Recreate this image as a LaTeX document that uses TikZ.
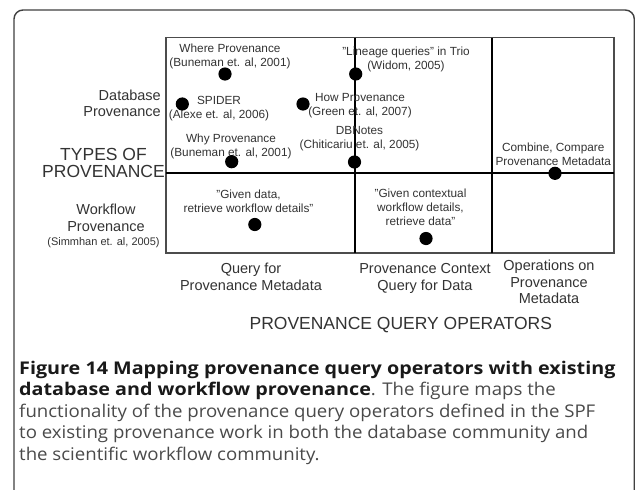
\documentclass[tikz,border=0pt]{standalone}
\usepackage{fontspec}
\setmainfont{Liberation Sans}
\newfontfamily\capfont[FakeStretch=1.064,BoldFeatures={FakeStretch=1.128}]{Open Sans}
\newcommand{\qt}{\symbol{34}}
\definecolor{inkgray}{HTML}{333333}
\definecolor{capgray}{HTML}{4A4A4A}
\tikzset{
  celltext/.style={inner sep=0pt,align=center,text=inkgray,font=\fontsize{11.8}{14}\selectfont},
  sidetext/.style={inner sep=0pt,align=center,text=inkgray,font=\fontsize{14.5}{16.8}\selectfont},
  bigtext/.style={inner sep=0pt,align=center,text=inkgray,font=\fontsize{17.5}{17.8}\selectfont},
  gridline/.style={line width=1.2pt},
}
\begin{document}
\begin{tikzpicture}[x=1pt,y=-1pt]
\clip (0,0) rectangle (635,490);
\fill[white] (0,0) rectangle (635,490);
% outer frame
\draw[line width=1.4pt,draw=black!75,rounded corners=9pt] (14,520) -- (14,10) -- (634.3,10) -- (634.3,520);
% grid
\draw[gridline,draw=black!70] (166,37.5) rectangle (614,253);
\draw[gridline] (166,173) -- (614,173);
\draw[gridline] (355,37.5) -- (355,253);
\draw[gridline] (492,37.5) -- (492,253);
% dots
\coordinate (Where) at (225,74);
\coordinate (Spider) at (182.3,104);
\coordinate (How) at (303,104);
\coordinate (Trio) at (355.7,74);
\coordinate (Why) at (231.7,161.7);
\coordinate (DBNotes) at (354.5,162);
\coordinate (GivenData) at (254.8,224.5);
\coordinate (GivenCtx) at (426,238.5);
\coordinate (Combine) at (555,173.3);
% cell labels
\node[celltext] (whereTxt) at (230,56) {Where Provenance\\(Buneman et. al, 2001)};
\node[celltext] (spiderTxt) at (219,109) {SPIDER\\(Alexe et. al, 2006)};
\node[celltext] (whyTxt) at (231,146) {Why Provenance\\(Buneman et. al, 2001)};
\node[celltext] (howTxt) at (360,105.7) {How Provenance\\(Green et. al, 2007)};
\node[celltext] (dbTxt) at (359.5,138.7) {DBNotes\\(Chiticariu et. al, 2005)};
\node[celltext] (trioTxt) at (406,59.2) {\qt Lineage queries\qt\ in Trio\\(Widom, 2005)};
\node[celltext] (combTxt) at (553.3,154.5) {Combine, Compare\\Provenance Metadata};
\node[celltext] (givenTxt) at (248.5,200.8) {\qt Given data,\\retrieve workflow details\qt};
\node[celltext] (ctxTxt) at (420.5,207) {\qt Given contextual\\workflow details,\\retrieve data\qt};
\foreach \p in {Where,Spider,How,Trio,Why,DBNotes,GivenData,GivenCtx,Combine}
  \fill (\p) circle (6.6pt);
% side labels
\node[sidetext,align=right,anchor=east] (dbProv) at (161,103.4) {Database\\Provenance};
\node[bigtext] (types) at (103.5,162.9) {TYPES OF\\PROVENANCE};
\node[sidetext] (wfProv) at (106,217.8) {Workflow\\Provenance};
\node[celltext,font=\fontsize{11}{13}\selectfont] (simmhan) at (103.5,242.3) {(Simmhan et. al, 2005)};
% bottom labels
\node[sidetext] (queryMeta) at (251,277) {Query for\\Provenance Metadata};
\node[sidetext] (queryData) at (425,278.6) {Provenance Context\\Query for Data};
\node[sidetext] (operations) at (549,282) {Operations on\\Provenance\\Metadata};
\node[bigtext] (operators) at (400.8,325) {PROVENANCE QUERY OPERATORS};
% caption
\node[anchor=north west,inner sep=0pt,align=left,text=capgray,
  font=\capfont\fontsize{17.5}{21.6}\selectfont] (caption) at (19,360.5)
  {\textcolor{black!90}{\bfseries Figure 14 Mapping provenance query operators with existing}\\
   \textcolor{black!90}{\bfseries database and workflow provenance}. The figure maps the\\
   functionality of the provenance query operators defined in the SPF\\
   to existing provenance work in both the database community and\\
   the scientific workflow community.};
\end{tikzpicture}
\end{document}
